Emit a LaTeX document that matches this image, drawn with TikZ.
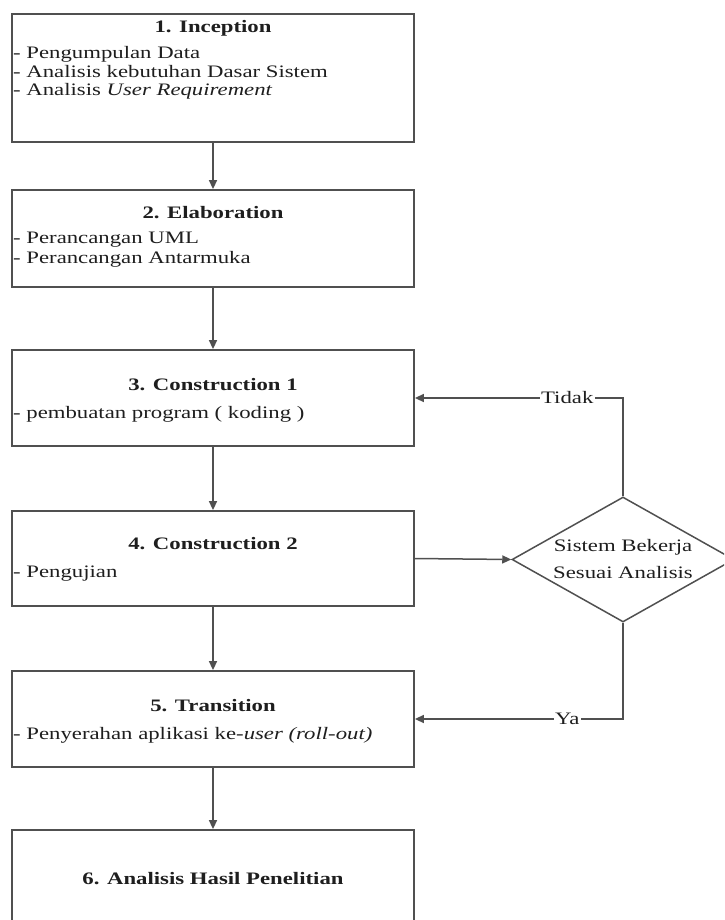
\documentclass[tikz,border=0pt]{standalone}
\usepackage{fontspec}
\setmainfont{Liberation Serif}[FakeStretch=1.3]
\usetikzlibrary{arrows.meta,shapes.geometric}
\definecolor{ln}{HTML}{505050}
\definecolor{tx}{HTML}{1E1E1E}
\begin{document}
\begin{tikzpicture}[x=1pt,y=-1pt,
  boxnode/.style={draw=ln, line width=1.8pt, minimum width=402pt, inner sep=0pt},
  ttl/.style={font=\fontsize{17.5}{19}\selectfont\bfseries, text=tx, inner sep=0pt, anchor=base},
  bodyline/.style={font=\fontsize{17.5}{19}\selectfont, text=tx, inner sep=0pt, anchor=base west},
  dtext/.style={font=\fontsize{17.5}{19}\selectfont, text=tx, inner sep=0pt, anchor=base},
  conn/.style={draw=ln, line width=1.5pt, -{Triangle[length=9pt,width=8pt]}},
  lbl/.style={font=\fontsize{17.5}{19}\selectfont, text=tx, fill=white, inner sep=1.2pt}
]
\useasboundingbox (0,0) rectangle (724,920);
\fill[white] (0,0) rectangle (724,920);
\clip (0,0) rectangle (724,920);

% boxes
\node[boxnode, minimum height=128pt] (b1) at (213,78) {};
\node[boxnode, minimum height=97pt] (b2) at (213,238.5) {};
\node[boxnode, minimum height=96pt] (b3) at (213,398) {};
\node[boxnode, minimum height=95pt] (b4) at (213,558.5) {};
\node[boxnode, minimum height=96pt] (b5) at (213,719) {};
\node[boxnode, minimum height=96pt] (b6) at (213,878) {};

% decision
\node[draw=ln, line width=1.5pt, diamond, minimum width=222pt, minimum height=125pt, inner sep=0pt] (d) at (623,559.5) {};

% texts
\node[ttl] (t1) at (213,33) {1. Inception};
\node[bodyline] (l1a) at (13,59) {- Pengumpulan Data};
\node[bodyline] (l1b) at (13,78) {- Analisis kebutuhan Dasar Sistem};
\node[bodyline] (l1c) at (13,96) {- Analisis \textit{User Requirement}};

\node[ttl] (t2) at (213,218) {2. Elaboration};
\node[bodyline] (l2a) at (13,243) {- Perancangan UML};
\node[bodyline] (l2b) at (13,263) {- Perancangan Antarmuka};

\node[ttl] (t3) at (213,390) {3. Construction 1};
\node[bodyline] (l3a) at (13,418) {- pembuatan program ( koding )};

\node[ttl] (t4) at (213,549) {4. Construction 2};
\node[bodyline] (l4a) at (13,577) {- Pengujian};

\node[ttl] (t5) at (213,711) {5. Transition};
\node[bodyline] (l5a) at (13,739) {- Penyerahan aplikasi ke-\textit{user (roll-out)}};

\node[ttl] (t6) at (213,884) {6. Analisis Hasil Penelitian};

\node[dtext] (d1) at (623,551) {Sistem Bekerja};
\node[dtext] (d2) at (623,578) {Sesuai Analisis};

% connectors
\draw[conn] (b1.south) -- (b2.north);
\draw[conn] (b2.south) -- (b3.north);
\draw[conn] (b3.south) -- (b4.north);
\draw[conn] (b4.south) -- (b5.north);
\draw[conn] (b5.south) -- (b6.north);
\draw[conn] (b4.east) -- (d.west);
\draw[conn] (d.north) |- node[lbl, pos=0.634] (tidak) {Tidak} (b3.east);
\draw[conn] (d.south) |- node[lbl, pos=0.634] (ya) {Ya} (b5.east);
\end{tikzpicture}
\end{document}
